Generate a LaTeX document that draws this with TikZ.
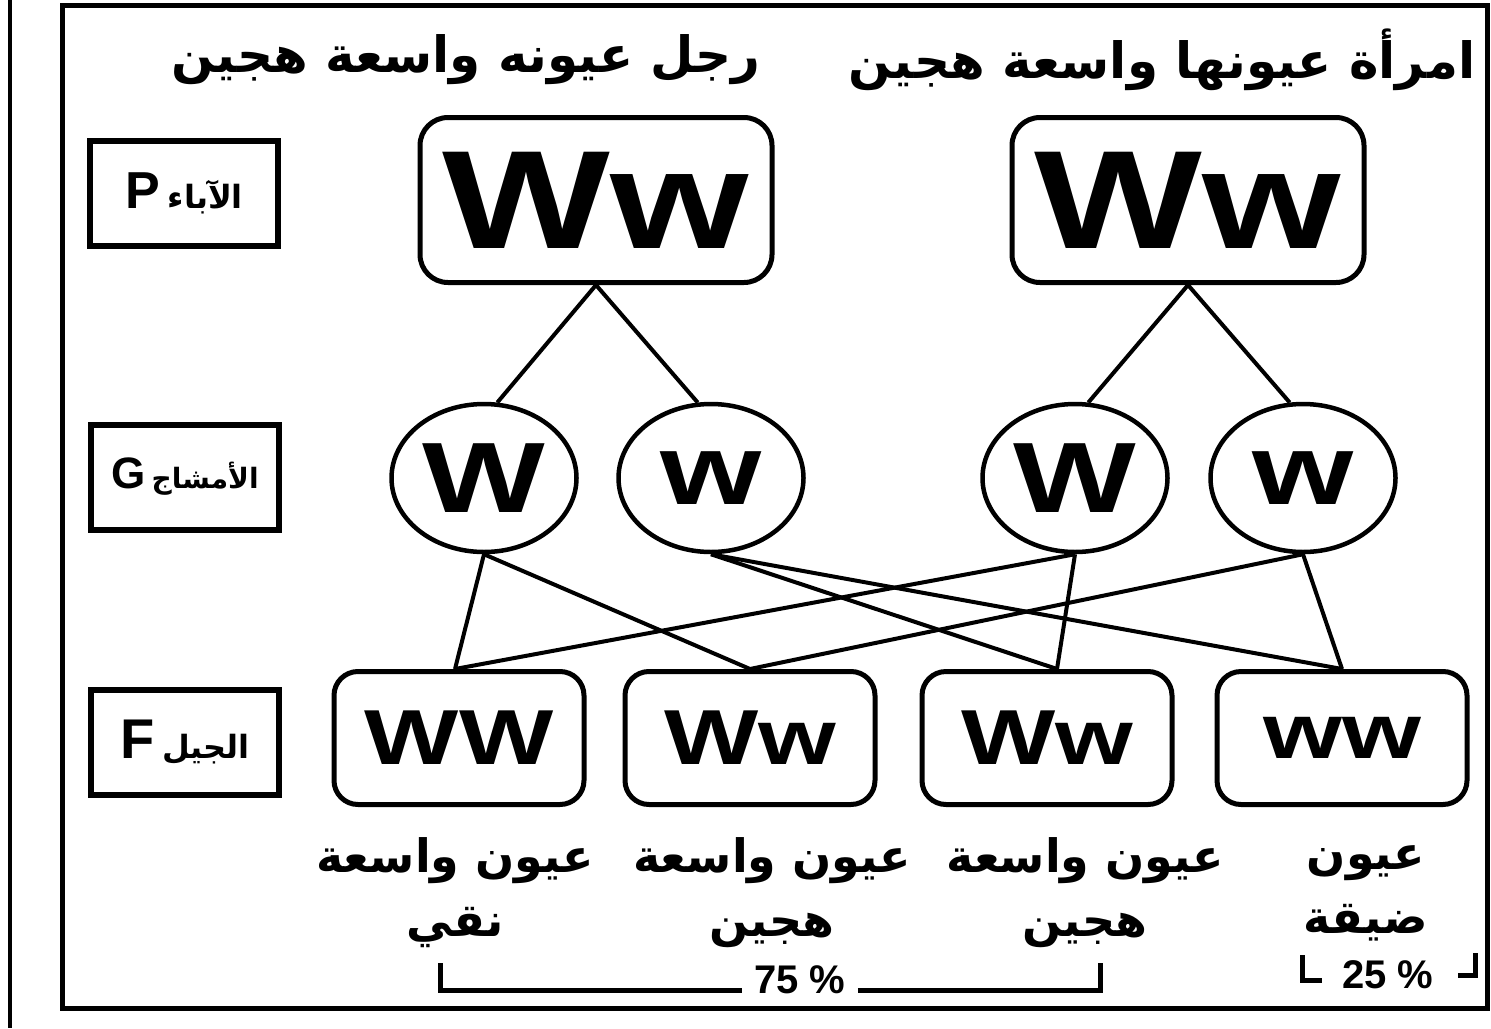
\documentclass[tikz,border=0pt]{standalone}
\usepackage{fontspec}
\usepackage{graphicx}
\setmainfont{Liberation Sans}
\newfontfamily\arabicfont[Script=Arabic]{DejaVu Sans}
\TeXXeTstate=1
\usetikzlibrary{shapes.geometric}
\newcommand\widetxt[2]{\scalebox{#1}[1]{#2}}
\begin{document}
\begin{tikzpicture}[x=1pt,y=-1pt,
  parent/.style={draw, rounded corners=28pt, line width=5pt, minimum width=352pt, minimum height=165pt, inner sep=0pt, font=\bfseries\fontsize{140}{140}\selectfont},
  gam/.style={draw, ellipse, line width=4.5pt, minimum width=185pt, minimum height=148pt, inner sep=0pt, font=\bfseries\fontsize{100}{100}\selectfont},
  child/.style={draw, rounded corners=24pt, line width=5pt, minimum width=250pt, minimum height=133pt, inner sep=0pt, font=\bfseries\fontsize{78}{78}\selectfont},
  lab/.style={draw, line width=6pt, minimum width=188pt, minimum height=105pt, inner sep=0pt},
  conn/.style={line width=4pt},
  artxt/.style={font=\arabicfont\bfseries\fontsize{46}{64}\selectfont, align=center, inner sep=0pt},
  ttl/.style={font=\arabicfont\bfseries\fontsize{50}{50}\selectfont, inner sep=0pt},
  pct/.style={font=\bfseries\fontsize{40}{40}\selectfont, inner sep=0pt}
]
\useasboundingbox (0,0) rectangle (1491,1028);
\fill[white] (0,0) rectangle (1491,1028);
\draw[line width=4pt] (10,0) -- (10,1028);
\draw[line width=5pt] (62,5) rectangle (1487,1008);

% titles
\node[ttl] (tl) at (466,60) {\beginR رجل عيونه واسعة هجين\endR};
\node[ttl] (tr) at (1162,60) {\beginR امرأة عيونها واسعة هجين\endR};

% row labels
\node[lab] (lp) at (184,193) {{\bfseries\fontsize{52}{52}\selectfont P}\hspace{8pt}{\arabicfont\bfseries\fontsize{32}{32}\selectfont\beginR الآباء\endR}};
\node[lab] (lg) at (185,477) {{\bfseries\fontsize{44}{44}\selectfont G}\hspace{6pt}{\arabicfont\bfseries\fontsize{28}{28}\selectfont\beginR الأمشاج\endR}};
\node[lab] (lf) at (185,742) {{\bfseries\fontsize{56}{56}\selectfont F}\hspace{8pt}{\arabicfont\bfseries\fontsize{32}{32}\selectfont\beginR الجيل\endR}};

% parents
\node[parent] (pl) at (596,200) {\widetxt{1.27}{Ww}};
\node[parent] (pr) at (1188,200) {\widetxt{1.27}{Ww}};

% gametes
\node[gam] (g1) at (484,478) {\widetxt{1.3}{W}};
\node[gam] (g2) at (711,478) {\widetxt{1.3}{w}};
\node[gam] (g3) at (1075,478) {\widetxt{1.3}{W}};
\node[gam] (g4) at (1303,478) {\widetxt{1.3}{w}};

% offspring
\node[child] (c1) at (459,738) {\widetxt{1.28}{WW}};
\node[child] (c2) at (750,738) {\widetxt{1.28}{Ww}};
\node[child] (c3) at (1047,738) {\widetxt{1.28}{Ww}};
\node[child] (c4) at (1342,738) {\widetxt{1.3}{ww}};

% parent -> gametes
\draw[conn] (pl.south) -- (g1.80);
\draw[conn] (pl.south) -- (g2.100);
\draw[conn] (pr.south) -- (g3.80);
\draw[conn] (pr.south) -- (g4.100);

% gametes -> offspring
\coordinate (c1t) at ([xshift=-4pt]c1.north);
\coordinate (c2t) at (c2.north);
\coordinate (c3t) at ([xshift=10pt]c3.north);
\coordinate (c4t) at (c4.north);
\draw[conn] (g1.south) -- (c1t);
\draw[conn] (g1.south) -- (c2t);
\draw[conn] (g2.south) -- (c3t);
\draw[conn] (g2.south) -- (c4t);
\draw[conn] (g3.south) -- (c1t);
\draw[conn] (g3.south) -- (c3t);
\draw[conn] (g4.south) -- (c2t);
\draw[conn] (g4.south) -- (c4t);

% phenotype labels
\node[artxt] (t1) at (455,893) {\beginR عيون واسعة\endR\\\beginR نقي\endR};
\node[artxt] (t2) at (772,893) {\beginR عيون واسعة\endR\\\beginR هجين\endR};
\node[artxt] (t3) at (1085,893) {\beginR عيون واسعة\endR\\\beginR هجين\endR};
\node[artxt] (t4) at (1366,893) {\beginR عيون\endR\\\beginR ضيقة\endR};

% percentages
\node[pct] (p75) at (800,980) {75 \%};
\node[pct] (p25) at (1388,975) {25 \%};
\draw[line width=5pt] (440,963) -- (440,990) -- ([xshift=-12pt]p75.west |- 0,990);
\draw[line width=5pt] ([xshift=12pt]p75.east |- 0,990) -- (1100,990) -- (1100,963);
\draw[line width=5pt] (1302,955) -- (1302,980) -- (1322,980);
\draw[line width=5pt] (1475,953) -- (1475,975) -- (1458,975);
\end{tikzpicture}
\end{document}
